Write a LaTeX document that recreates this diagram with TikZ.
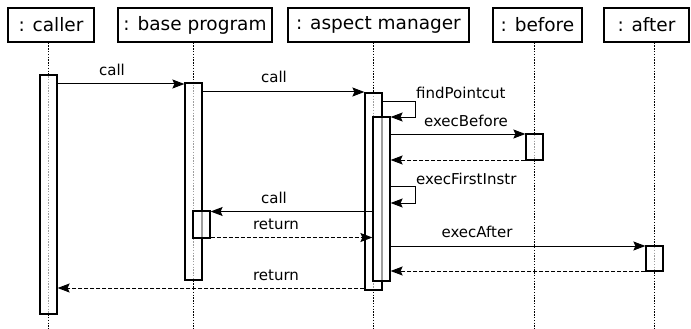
\documentclass[tikz,border=0pt]{standalone}
\usepackage{fontspec}
\setmainfont{DejaVu Sans}
\usetikzlibrary{arrows.meta}
\begin{document}
\begin{tikzpicture}[x=1pt,y=-1pt,
  hdr/.style={draw,line width=1.1pt,inner sep=0pt,minimum height=34pt,font=\fontsize{18.5}{20}\selectfont},
  life/.style={line width=1.2pt,dash pattern=on 1.4pt off 1.4pt},
  act/.style={draw,line width=1.2pt,fill=white,fill opacity=0.62,inner sep=0pt,minimum width=17pt},
  msg/.style={line width=1pt,-{Stealth[length=12pt,width=9pt,inset=2pt]}},
  ret/.style={msg,dash pattern=on 4pt off 2pt},
  lbl/.style={anchor=base,inner sep=0pt,font=\fontsize{15}{17}\selectfont}]
\useasboundingbox[fill=white] (0,0) rectangle (691,329);

% object headers
\node[hdr,minimum width=86pt]  (hCaller) at (51,25)    {: caller};
\node[hdr,minimum width=154pt] (hBase)   at (195,25)   {: base program};
\node[hdr,minimum width=181pt] (hAsp)    at (378.5,25) {: aspect manager};
\node[hdr,minimum width=89pt]  (hBef)    at (537.5,25) {: before};
\node[hdr,minimum width=85pt]  (hAft)    at (646.5,25) {: after};

% lifelines
\coordinate (lCaller) at (48.5,329);
\coordinate (lBase)   at (193.5,329);
\coordinate (lAsp)    at (373.5,329);
\coordinate (lBef)    at (534.5,329);
\coordinate (lAft)    at (654.5,329);
\draw[life] (hCaller.south -| lCaller) -- (lCaller);
\draw[life] (hBase.south -| lBase) -- (lBase);
\draw[life] (hAsp.south -| lAsp) -- (lAsp);
\draw[life] (hBef.south -| lBef) -- (lBef);
\draw[life] (hAft.south -| lAft) -- (lAft);

% activation bars
\node[act,minimum height=239pt] (cA)  at (48.5,194.5)  {};
\node[act,minimum height=197pt] (bA)  at (193.5,181.5) {};
\node[act,minimum height=27pt]  (bB)  at (201.5,224.5) {};
\node[act,minimum height=197pt] (mA)  at (373.5,191.5) {};
\node[act,minimum height=164pt] (mB)  at (381.5,199)   {};
\node[act,minimum height=26pt]  (bfA) at (534.5,147)   {};
\node[act,minimum height=25pt]  (afA) at (654.5,258.5) {};

% messages
\draw[msg] (cA.east |- 0,84) -- (bA.west |- 0,84);
\node[lbl] (l1) at (112,75) {call};

\draw[msg] (bA.east |- 0,92) -- (mA.west |- 0,92);
\node[lbl] (l2) at (274,83) {call};

\draw[msg] (mA.east |- 0,101) -- ++(33,0) |- (mB.east |- 0,117);
\node[lbl,anchor=base west] (l3) at (416,99) {findPointcut};

\draw[msg] (mB.east |- 0,134) -- (bfA.west |- 0,134);
\node[lbl] (l4) at (466,126) {execBefore};

\draw[ret] (bfA.west |- 0,160) -- (mB.east |- 0,160);

\draw[msg] (mB.east |- 0,186) -- ++(25,0) |- (mB.east |- 0,203);
\node[lbl,anchor=base west] (l5) at (416,184) {execFirstInstr};

\draw[msg] (mB.west |- 0,211.5) -- (bB.east |- 0,211.5);
\node[lbl] (l6) at (274,203) {call};

\draw[ret] (bB.east |- 0,237.5) -- (mB.west |- 0,237.5);
\node[lbl] (l7) at (276,229) {return};

\draw[msg] (mB.east |- 0,246) -- (afA.west |- 0,246);
\node[lbl] (l8) at (477,237) {execAfter};

\draw[ret] (afA.west |- 0,271) -- (mB.east |- 0,271);

\draw[ret] (mA.west |- 0,288) -- (cA.east |- 0,288);
\node[lbl] (l9) at (276,280) {return};
\end{tikzpicture}
\end{document}
